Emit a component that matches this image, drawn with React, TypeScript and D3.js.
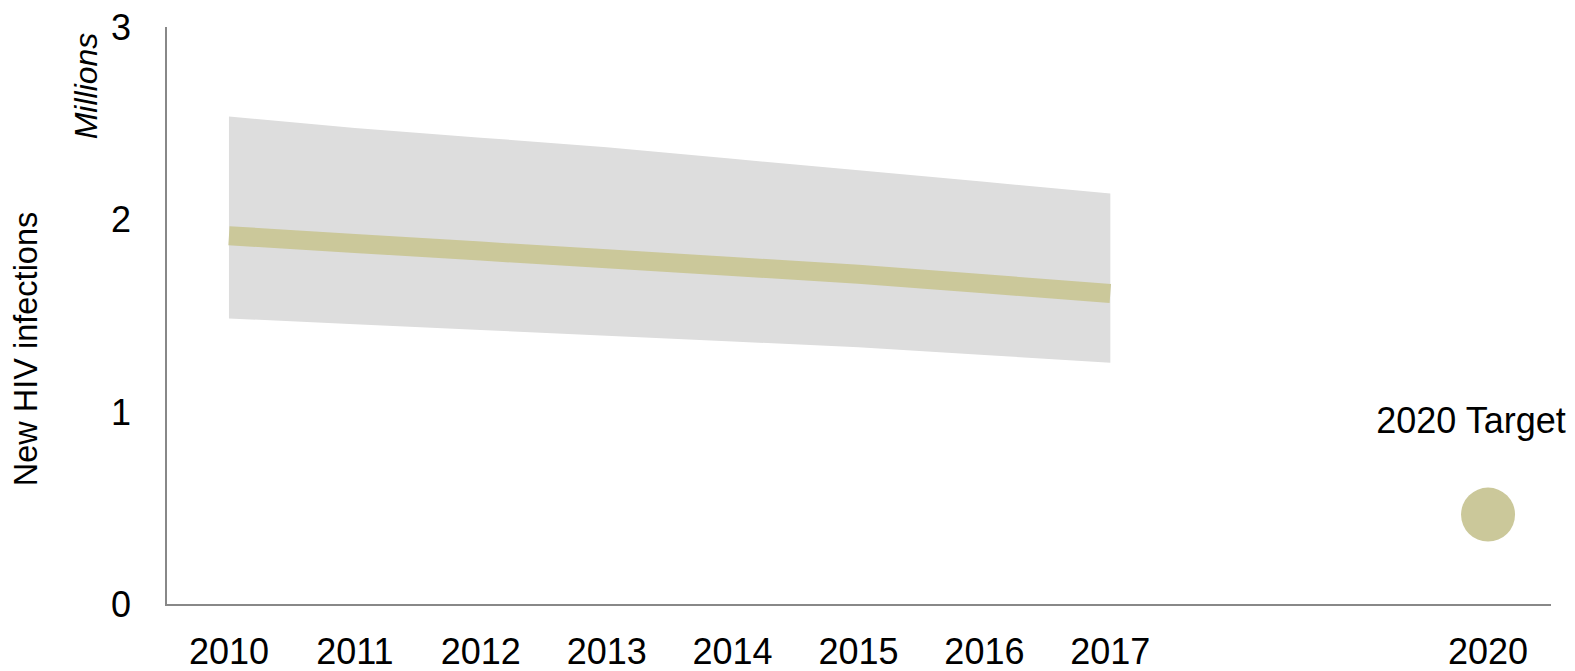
import * as d3 from "d3";
import { useEffect } from "react";

// years with estimates
const years = [2010, 2011, 2012, 2013, 2014, 2015, 2016, 2017];
// new HIV infections, millions
const estimate = [1.92, 1.88, 1.84, 1.8, 1.76, 1.72, 1.67, 1.62];
const upperBound = [2.54, 2.48, 2.43, 2.38, 2.32, 2.26, 2.2, 2.14];
const lowerBound = [1.49, 1.46, 1.43, 1.4, 1.37, 1.34, 1.3, 1.26];
const targetYear = 2020;
const targetValue = 0.47;
const xTickLabels = [2010, 2011, 2012, 2013, 2014, 2015, 2016, 2017, 2020];
const yTicks = [0, 1, 2, 3];

export default function App() {
  useEffect(() => {
    document.body.style.margin = "0";
  }, []);

  const width = 1575;
  const height = 671;
  const font = "'Liberation Sans', Arial, sans-serif";

  const x = d3.scaleLinear().domain([2009.5, 2020.5]).range([166, 1551]);
  const y = d3.scaleLinear().domain([0, 3]).range([605, 28]);

  const band = years.map((yr, i) => ({ yr, lo: lowerBound[i], hi: upperBound[i] }));
  const area = d3
    .area<{ yr: number; lo: number; hi: number }>()
    .x((d) => x(d.yr))
    .y0((d) => y(d.lo))
    .y1((d) => y(d.hi));
  const line = d3
    .line<number>()
    .x((d, i) => x(years[i]))
    .y((d) => y(d));

  return (
    <svg width={width} height={height} style={{ display: "block" }} fontFamily={font}>
      <path d={area(band) ?? ""} fill="#dddddd" />
      <path d={line(estimate) ?? ""} fill="none" stroke="#cbc89a" strokeWidth={19} strokeLinecap="butt" />
      <circle cx={x(targetYear)} cy={y(targetValue)} r={27} fill="#cbc89a" />
      <text x={x(targetYear) - 17} y={433} fontSize={36} textAnchor="middle" fill="#000">
        2020 Target
      </text>

      {/* axes */}
      <line x1={x.range()[0]} x2={x.range()[0]} y1={y(3) - 1} y2={y(0)} stroke="#888" strokeWidth={2} />
      <line x1={x.range()[0] - 1} x2={x.range()[1]} y1={y(0)} y2={y(0)} stroke="#888" strokeWidth={2} />

      {yTicks.map((t) => (
        <text key={t} x={131} y={y(t)} dy="0.33em" fontSize={36} textAnchor="end" fill="#000">
          {t}
        </text>
      ))}
      {xTickLabels.map((t) => (
        <text key={t} x={x(t)} y={664} fontSize={36} textAnchor="middle" fill="#000">
          {t}
        </text>
      ))}

      <text transform="translate(97,86) rotate(-90)" fontSize={32} fontStyle="italic" textAnchor="middle" fill="#000">
        Millions
      </text>
      <text transform="translate(37,349) rotate(-90)" fontSize={32.5} textAnchor="middle" fill="#000">
        New HIV infections
      </text>
    </svg>
  );
}
